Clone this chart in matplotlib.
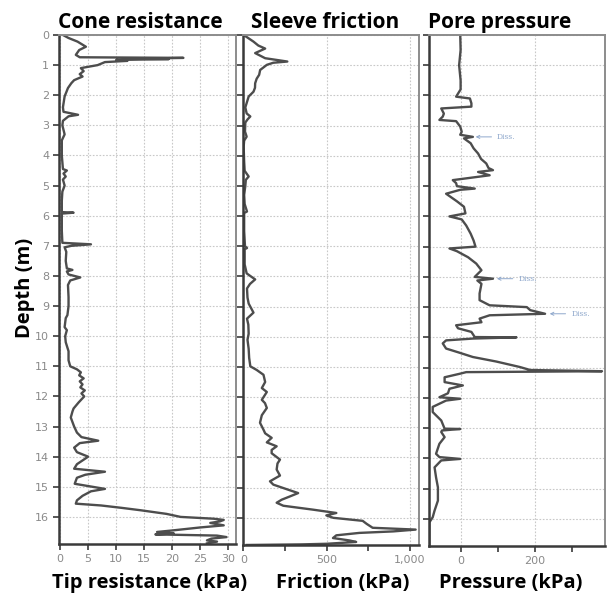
import matplotlib
matplotlib.use("Agg")
import matplotlib.pyplot as plt
from matplotlib.ticker import MultipleLocator, FuncFormatter

# cone resistance (depth m, tip resistance)
cone_depth = [0.0, 0.1, 0.22, 0.39, 0.5, 0.66, 0.74, 0.76, 0.79, 0.8, 0.83, 0.86, 0.9, 1.0, 1.1,
              1.2, 1.3, 1.38, 1.5, 1.6, 1.76, 2.04, 2.4, 2.55, 2.65, 2.7, 2.85, 3.0, 3.3, 3.5,
              4.0, 4.45, 4.5, 4.6, 4.7, 4.8, 5.0, 5.2, 5.5, 5.88, 5.9, 5.93, 6.5, 6.9, 6.95,
              7.0, 7.05, 7.2, 7.5, 7.75, 7.8, 7.85, 7.95, 8.05, 8.15, 8.3, 8.7, 9.0, 9.3, 9.4,
              9.7, 9.8, 10.0, 10.2, 10.5, 10.8, 11.0, 11.1, 11.2, 11.3, 11.4, 11.5, 11.6, 11.7,
              11.8, 11.9, 12.0, 12.2, 12.4, 12.5, 12.7, 12.9, 13.0, 13.2, 13.35, 13.47, 13.55,
              13.7, 13.85, 14.0, 14.1, 14.25, 14.4, 14.5, 14.6, 14.7, 14.9, 15.07, 15.15, 15.3,
              15.45, 15.56, 15.62, 15.7, 15.78, 15.9, 16.0, 16.06, 16.1, 16.15, 16.2, 16.28,
              16.35, 16.45, 16.5, 16.55, 16.58, 16.62, 16.67, 16.72, 16.78, 16.82, 16.88]
cone_tip = [0.5, 1.5, 3.1, 4.6, 3.4, 2.8, 3.5, 22.0, 14.0, 19.4, 10.0, 12.0, 8.0, 6.7, 3.7,
            4.2, 3.5, 4.0, 2.5, 2.0, 1.4, 0.8, 0.5, 0.6, 3.2, 1.5, 0.5, 0.4, 0.8, 0.3,
            0.3, 0.5, 1.2, 0.6, 1.0, 0.5, 0.8, 0.4, 0.3, 0.3, 2.4, 0.3, 0.3, 0.4, 5.5,
            2.0, 0.8, 1.1, 1.0, 1.2, 2.2, 1.2, 1.5, 3.6, 1.8, 1.4, 1.5, 1.5, 1.3, 1.0,
            0.8, 1.2, 0.9, 1.0, 1.5, 1.5, 1.8, 3.0, 3.7, 3.4, 4.2, 3.5, 4.0, 3.6,
            4.4, 3.8, 4.3, 3.3, 2.4, 2.2, 1.9, 2.3, 2.5, 3.0, 3.8, 6.8, 3.5,
            2.5, 3.0, 5.0, 4.2, 3.0, 2.5, 8.0, 4.5, 3.0, 2.6, 8.0, 5.5, 4.0,
            3.0, 2.8, 7.3, 11.0, 14.4, 19.0, 21.5, 27.4, 29.2, 28.5, 26.8, 29.2,
            25.0, 20.0, 17.3, 20.3, 17.0, 28.0, 29.7, 27.0, 26.2, 28.0, 26.2]

# sleeve friction
sleeve_depth = [0, 0.22, 0.35, 0.45, 0.6, 0.77, 0.88, 0.92, 0.99, 1.16, 1.32, 1.45, 1.6, 1.75,
                1.88, 2.04, 2.4, 2.6, 2.7, 2.8, 2.9, 3.2, 3.37, 3.5, 3.7, 4.2, 4.5, 4.69, 4.8,
                5.0, 5.3, 5.6, 5.85, 5.9, 6.5, 7.0, 7.06, 7.1, 7.6, 7.9, 8.1, 8.25, 8.4, 8.7,
                8.9, 9.2, 9.4, 9.6, 9.9, 10.1, 10.4, 10.7, 10.98, 11.1, 11.26, 11.5, 11.7,
                11.83, 12.09, 12.2, 12.36, 12.6, 12.85, 13.08, 13.2, 13.35, 13.5, 13.63, 13.75,
                13.86, 14.07, 14.2, 14.4, 14.6, 14.79, 14.9, 15.07, 15.18, 15.29, 15.4, 15.5,
                15.6, 15.73, 15.84, 15.92, 16.0, 16.1, 16.2, 16.33, 16.39, 16.45, 16.5, 16.58,
                16.67, 16.75, 16.8, 16.86, 16.88, 16.9]
sleeve_fric = [2, 61, 90, 131, 71, 131, 264, 180, 141, 101, 95, 80, 71, 70,
               61, 32, 12, 20, 42, 25, 12, 10, 20, 5, 2, 5, 8, 32, 15,
               12, 5, 8, 22, 5, 5, 10, 22, 8, 8, 20, 71, 40, 22, 25,
               32, 61, 22, 30, 32, 25, 32, 35, 42, 80, 121, 131, 111,
               141, 111, 130, 141, 111, 100, 121, 131, 170, 141, 200, 170,
               170, 220, 205, 200, 220, 160, 180, 270, 329, 280, 230, 200,
               240, 419, 558, 498, 540, 716, 740, 776, 1034, 900, 696, 558,
               538, 637, 677, 500, 350, 20]

# pore pressure
pore_depth = [0.0, 0.5, 1.0, 1.5, 1.8, 2.04, 2.1, 2.26, 2.37, 2.43, 2.6, 2.7, 2.81, 2.85, 3.03,
              3.2, 3.3, 3.37, 3.42, 3.58, 3.75, 3.92, 4.1, 4.25, 4.4, 4.47, 4.53, 4.64, 4.8,
              4.9, 5.0, 5.08, 5.12, 5.25, 5.5, 5.68, 5.9, 6.0, 6.1, 6.3, 6.57, 6.8, 7.0, 7.06,
              7.15, 7.35, 7.56, 7.78, 8.0, 8.06, 8.12, 8.23, 8.55, 8.77, 8.94, 9.0, 9.1, 9.22,
              9.27, 9.38, 9.5, 9.6, 9.7, 9.82, 9.99, 10.0, 10.04, 10.1, 10.2, 10.37, 10.5,
              10.65, 10.8, 10.98, 11.08, 11.12, 11.15, 11.2, 11.32, 11.48, 11.59, 11.7, 11.85,
              11.98, 12.03, 12.09, 12.3, 12.47, 12.75, 13.02, 13.03, 13.08, 13.13, 13.3, 13.52,
              13.85, 13.96, 14.02, 14.07, 14.3, 14.63, 14.96, 15.4, 15.73, 15.95, 16.12, 16.9]
pore_press = [-1, 0, -4, 0, 0, -12, 25, 29, 29, -52, -45, -48, -57, -12, -1,
              3, -1, 33, 9, 27, 35, 47, 55, 69, 75, 87, 47, 78, -21,
              -12, -10, 38, -1, -39, -10, 9, 13, -30, 3, 15, 27, 35, 40, -30,
              -10, 20, 42, 56, 38, 87, 45, 56, 51, 51, 78, 178, 187, 227,
              78, 51, 56, -12, -7, 29, 38, 150, 33, -39, -48, -39, -5,
              33, 96, 159, 187, 380, 15, -1, -43, -43, 6, -30, -34,
              -57, -1, -39, -75, -75, -52, -43, -1, -50, -52, -43, -57,
              -66, -57, -1, -52, -70, -66, -61, -61, -70, -75, -84, -84]

# dissipation test markers
diss_depth = [3.37, 8.06, 9.22]
diss_press = [33, 90, 232]

titles = ["Cone resistance", "Sleeve friction", "Pore pressure"]
xlabels = ["Tip resistance (kPa)", "Friction (kPa)", "Pressure (kPa)"]

fig = plt.figure(figsize=(6.09, 6.0), dpi=100)
bold = dict(family=["Open Sans", "DejaVu Sans"], weight="bold", color="black")

boxes = [[0.0969, 0.0933, 0.2898, 0.8484],
         [0.399, 0.0917, 0.2898, 0.85],
         [0.7044, 0.09, 0.289, 0.8517]]
line_c = "#4d4d4d"

ax1 = fig.add_axes(boxes[0])
ax2 = fig.add_axes(boxes[1])
ax3 = fig.add_axes(boxes[2])

ax1.plot(cone_tip, cone_depth, color=line_c, lw=1.7)
ax2.plot(sleeve_fric, sleeve_depth, color=line_c, lw=1.7)
ax3.plot(pore_press, pore_depth, color=line_c, lw=1.7)

ax1.set_xlim(-0.2, 31.3)
ax1.xaxis.set_major_locator(MultipleLocator(5))
ax2.set_xlim(-2, 1057)
ax2.xaxis.set_major_locator(MultipleLocator(500))
ax2.xaxis.set_minor_locator(MultipleLocator(250))
ax2.xaxis.set_major_formatter(FuncFormatter(lambda v, p: f"{int(v):,}"))
ax3.set_xlim(-85, 388)
ax3.xaxis.set_major_locator(MultipleLocator(200))
ax3.xaxis.set_minor_locator(MultipleLocator(100))

for i, ax in enumerate([ax1, ax2, ax3]):
    ax.set_ylim(16.9, 0)
    ax.yaxis.set_major_locator(MultipleLocator(1))
    ax.grid(True, which="major", color="#c8c8c8", ls=(0, (1.5, 1.5)), lw=0.8)
    ax.set_axisbelow(True)
    for s in ["top", "right"]:
        ax.spines[s].set_color("#8c8c8c")
        ax.spines[s].set_linewidth(1.4)
    for s in ["left", "bottom"]:
        ax.spines[s].set_color("#3a3a3a")
        ax.spines[s].set_linewidth(1.8)
    ax.tick_params(which="both", length=4, width=1.2, color="#3a3a3a",
                   labelsize=8, labelcolor="#8a8a8a", pad=3)
    if i > 0:
        ax.tick_params(axis="y", labelleft=False)

# titles and axis labels
fig.text(0.23, 0.962, titles[0], ha="center", va="center", fontsize=15, **bold)
fig.text(0.534, 0.962, titles[1], ha="center", va="center", fontsize=15, **bold)
fig.text(0.702, 0.962, titles[2], ha="left", va="center", fontsize=15, **bold)
fig.text(0.086, 0.028, xlabels[0], ha="left", va="center", fontsize=14.5, **bold)
fig.text(0.454, 0.028, xlabels[1], ha="left", va="center", fontsize=14.5, **bold)
fig.text(0.721, 0.028, xlabels[2], ha="left", va="center", fontsize=14.5, **bold)
fig.text(0.041, 0.52, "Depth (m)", rotation=90, ha="center", va="center", fontsize=14.5, **bold)

for d, p in zip(diss_depth, diss_press):
    ax3.annotate("Diss.", xy=(p, d), xytext=(p + 65, d), va="center", ha="left",
                 fontsize=5.5, family="DejaVu Serif", color="#8fa8cc",
                 arrowprops=dict(arrowstyle="->", color="#8fa8cc", lw=0.7))

fig.savefig("out.png", dpi=100)
